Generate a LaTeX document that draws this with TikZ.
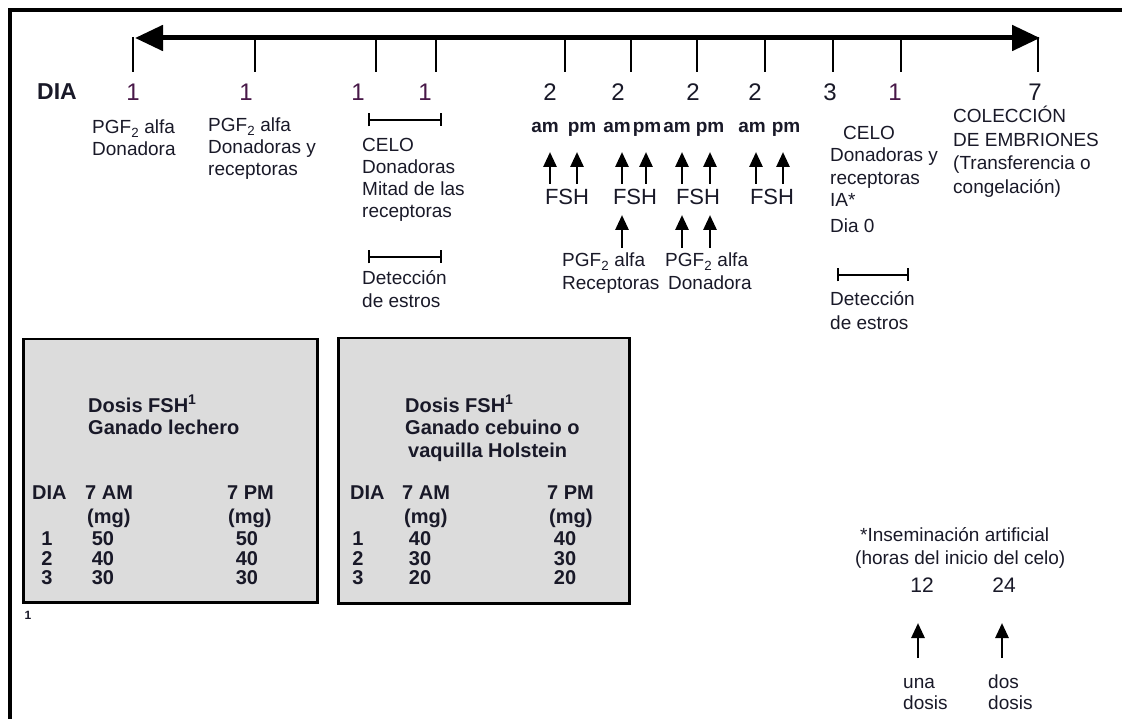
\documentclass[tikz,border=0pt]{standalone}
\usepackage{fontspec}
\setmainfont{Liberation Sans}
\usetikzlibrary{arrows.meta}
\definecolor{boxgray}{RGB}{220,220,220}
\definecolor{daypurple}{RGB}{72,24,72}
\definecolor{inkdark}{RGB}{25,25,40}
\newcommand\lblfont{\fontsize{19}{22}\selectfont}
\tikzset{
  lbl/.style={font=\lblfont, anchor=north west, inner sep=0pt, align=left, text=inkdark},
  daynum/.style={font=\fontsize{24}{27}\selectfont, inner sep=0pt, text=inkdark},
  dayone/.style={daynum, text=daypurple},
  ampm/.style={font=\fontsize{19}{22}\selectfont\bfseries, inner sep=0pt, anchor=base, text=inkdark},
  fshlbl/.style={font=\fontsize{22}{25}\selectfont, inner sep=0pt, text=inkdark},
  daytick/.style={line width=2.5pt},
  timeline/.style={line width=5pt, {Triangle[width=25pt,length=28pt]}-{Triangle[width=25pt,length=28pt]}},
  uparrow/.style={line width=2.8pt, -{Triangle[width=13pt,length=15pt]}},
  bracket/.style={line width=2pt, {Bar[width=13pt]}-{Bar[width=13pt]}},
  dosebox/.style={draw=black, line width=2.5pt, fill=boxgray},
  boxtxt/.style={font=\fontsize{20}{22.5}\selectfont\bfseries, inner sep=0pt, text=inkdark},
  boxlbl/.style={boxtxt, anchor=north west, align=left},
}
\begin{document}
\begin{tikzpicture}[x=1pt,y=-1pt]
\useasboundingbox (0,0) rectangle (1122,719);
% frame
\coordinate (fbl) at (10,725);
\coordinate (ftl) at (10,10);
\coordinate (ftr) at (1130,10);
\draw[line width=4pt] (fbl) -- (ftl) -- (ftr);

% timeline
\coordinate (tl) at (135,38);
\coordinate (tr) at (1040,38);
\draw[timeline] (tl) -- (tr);
\coordinate (e1a) at (133,37); \coordinate (e1b) at (133,72);
\coordinate (e2a) at (1038,37); \coordinate (e2b) at (1038,72);
\draw[daytick] (e1a) -- (e1b);
\draw[daytick] (e2a) -- (e2b);
\foreach \i/\x in {1/255,2/376,3/436,4/565,5/631,6/697,7/765,8/833,9/901}{
  \coordinate (t\i a) at (\x,38);
  \coordinate (t\i b) at (\x,72);
  \draw[daytick] (t\i a) -- (t\i b);
}

% day numbers
\node[daynum, font=\fontsize{23}{26}\selectfont\bfseries] (dia) at (57,92) {DIA};
\node[dayone] (d1) at (133,92) {1};
\node[dayone] (d2) at (246,92) {1};
\node[dayone] (d3) at (358,92) {1};
\node[dayone] (d4) at (425,92) {1};
\node[daynum] (d5) at (550,92) {2};
\node[daynum] (d6) at (618,92) {2};
\node[daynum] (d7) at (693,92) {2};
\node[daynum] (d8) at (755,92) {2};
\node[daynum] (d9) at (830,92) {3};
\node[dayone] (d10) at (895,92) {1};
\node[daynum] (d11) at (1035,92) {7};

% labels under day 1
\node[lbl] (la) at (92,120) {PGF\textsubscript{2} alfa\\Donadora};
\node[lbl] (lb) at (208,118) {PGF\textsubscript{2} alfa\\Donadoras y\\receptoras};
\coordinate (bc1) at (368,120); \coordinate (bc2) at (442,120);
\draw[bracket] (bc1) -- (bc2);
\node[lbl] (lc) at (362,138) {CELO\\Donadoras\\Mitad de las\\receptoras};
\coordinate (bd1) at (368,257); \coordinate (bd2) at (442,257);
\draw[bracket] (bd1) -- (bd2);
\node[lbl, font=\fontsize{19}{23}\selectfont] (ld) at (362,270) {Detección\\de estros};

% am / pm
\node[ampm] (am1) at (545,133) {am};
\node[ampm] (pm1) at (582,133) {pm};
\node[ampm] (am2) at (617,133) {am};
\node[ampm] (pm2) at (647,133) {pm};
\node[ampm] (am3) at (677,133) {am};
\node[ampm] (pm3) at (710,133) {pm};
\node[ampm] (am4) at (752,133) {am};
\node[ampm] (pm4) at (786,133) {pm};

% FSH arrows
\foreach \i/\x in {1/550,2/577,3/622,4/646,5/682,6/710,7/756,8/783}{
  \coordinate (fa\i) at (\x,184);
  \coordinate (fb\i) at (\x,152);
  \draw[uparrow] (fa\i) -- (fb\i);
}
\node[fshlbl] (fsh1) at (567,197) {FSH};
\node[fshlbl] (fsh2) at (635,197) {FSH};
\node[fshlbl] (fsh3) at (698,197) {FSH};
\node[fshlbl] (fsh4) at (772,197) {FSH};

% PGF arrows
\foreach \i/\x in {1/622,2/682,3/710}{
  \coordinate (pa\i) at (\x,248);
  \coordinate (pb\i) at (\x,215);
  \draw[uparrow] (pa\i) -- (pb\i);
}
\node[lbl, font=\fontsize{19}{23}\selectfont] (le) at (562,253) {PGF\textsubscript{2} alfa\\Receptoras};
\node[lbl, font=\fontsize{19}{23}\selectfont] (lf) at (665,253) {PGF\textsubscript{2} alfa\\\hspace*{3pt}Donadora};

% day 3 / 1
\node[lbl] (lg0) at (843,126) {CELO};
\node[lbl, font=\fontsize{19}{22.5}\selectfont] (lg) at (830,148) {Donadoras y\\receptoras\\IA*\\[3pt]Dia 0};
\coordinate (bh1) at (837,275); \coordinate (bh2) at (909,275);
\draw[bracket] (bh1) -- (bh2);
\node[lbl, font=\fontsize{19}{24}\selectfont] (lh) at (830,291) {Detección\\de estros};

% day 7
\node[lbl, font=\fontsize{19}{23.5}\selectfont] (li) at (953,106) {COLECCIÓN\\DE EMBRIONES\\(Transferencia o\\congelación)};

% boxes
\node[dosebox, minimum width=294pt, minimum height=263pt, anchor=north west, inner sep=0pt] (box1) at (22,338) {};
\node[dosebox, minimum width=291pt, minimum height=265pt, anchor=north west, inner sep=0pt] (box2) at (337,337) {};

% box 1 text
\node[boxlbl] (b1t) at (88,395) {Dosis FSH\textsuperscript{1}\\Ganado lechero};
\node[boxtxt, anchor=west] (b1h1) at (32,493) {DIA};
\node[boxtxt, anchor=west] (b1h2) at (85,493) {7 AM};
\node[boxtxt, anchor=west] (b1h3) at (227,493) {7 PM};
\node[boxtxt, anchor=west] (b1m1) at (87,518) {(mg)};
\node[boxtxt, anchor=west] (b1m2) at (228,518) {(mg)};
\node[boxtxt] (b1r1) at (47,539) {1};
\node[boxtxt] (b1r2) at (47,559) {2};
\node[boxtxt] (b1r3) at (47,578) {3};
\node[boxtxt] (b1a1) at (103,539) {50};
\node[boxtxt] (b1a2) at (103,559) {40};
\node[boxtxt] (b1a3) at (103,578) {30};
\node[boxtxt] (b1p1) at (247,539) {50};
\node[boxtxt] (b1p2) at (247,559) {40};
\node[boxtxt] (b1p3) at (247,578) {30};
\node[boxtxt, font=\fontsize{12}{14}\selectfont\bfseries] (fn) at (28,615) {1};

% box 2 text
\node[boxlbl] (b2t) at (405,395) {Dosis FSH\textsuperscript{1}\\Ganado cebuino o\\\hspace*{3pt}vaquilla Holstein};
\node[boxtxt, anchor=west] (b2h1) at (350,493) {DIA};
\node[boxtxt, anchor=west] (b2h2) at (402,493) {7 AM};
\node[boxtxt, anchor=west] (b2h3) at (547,493) {7 PM};
\node[boxtxt, anchor=west] (b2m1) at (404,518) {(mg)};
\node[boxtxt, anchor=west] (b2m2) at (549,518) {(mg)};
\node[boxtxt] (b2r1) at (358,539) {1};
\node[boxtxt] (b2r2) at (358,559) {2};
\node[boxtxt] (b2r3) at (358,578) {3};
\node[boxtxt] (b2a1) at (420,539) {40};
\node[boxtxt] (b2a2) at (420,559) {30};
\node[boxtxt] (b2a3) at (420,578) {20};
\node[boxtxt] (b2p1) at (565,539) {40};
\node[boxtxt] (b2p2) at (565,559) {30};
\node[boxtxt] (b2p3) at (565,578) {20};

% insemination
\node[lbl, anchor=west] (ia1) at (860,535) {*Inseminación artificial};
\node[lbl, anchor=west] (ia2) at (855,560) {(horas del inicio del celo)};
\node[fshlbl, font=\fontsize{21}{24}\selectfont] (h12) at (922,585) {12};
\node[fshlbl, font=\fontsize{21}{24}\selectfont] (h24) at (1004,585) {24};
\coordinate (ua1) at (918,658); \coordinate (ub1) at (918,623);
\coordinate (ua2) at (1002,658); \coordinate (ub2) at (1002,623);
\draw[uparrow] (ua1) -- (ub1);
\draw[uparrow] (ua2) -- (ub2);
\node[lbl, font=\fontsize{19}{21}\selectfont] (una) at (903,675) {\vphantom{d}una\\dosis};
\node[lbl, font=\fontsize{19}{21}\selectfont] (dos) at (988,675) {dos\\dosis};
\end{tikzpicture}
\end{document}
